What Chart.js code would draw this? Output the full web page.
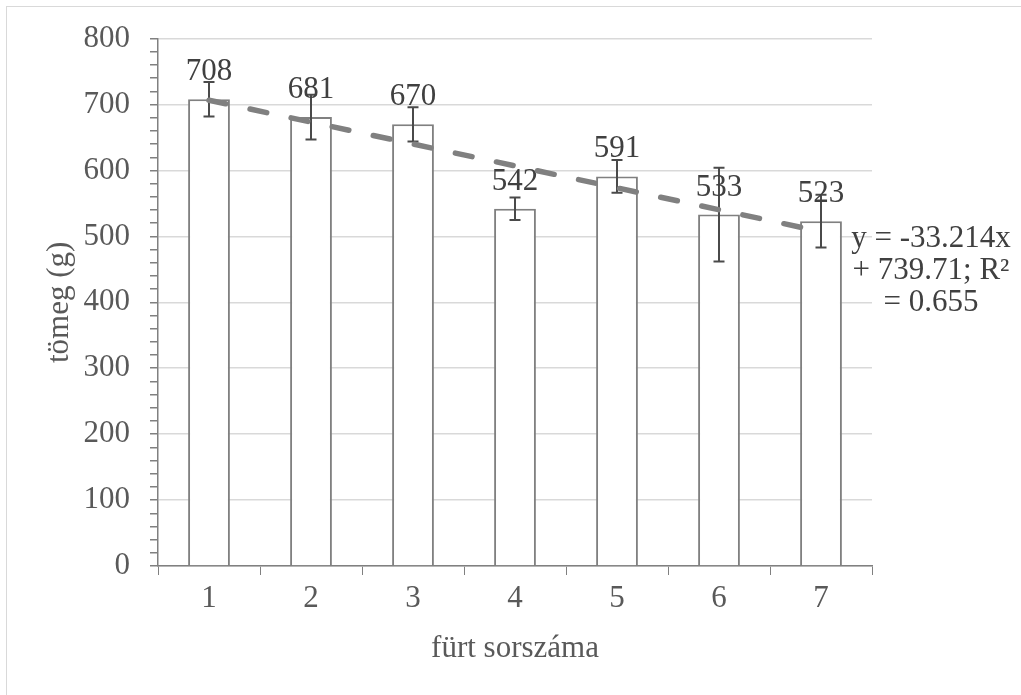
<!DOCTYPE html>
<html>
<head>
<meta charset="utf-8">
<script src="https://cdn.jsdelivr.net/npm/chart.js@4.4.1/dist/chart.umd.min.js"></script>
<style>
  html, body { margin: 0; padding: 0; background: #fff; }
  #wrap { position: relative; width: 1021px; height: 695px; overflow: hidden; }
  #frame { position: absolute; left: 6px; top: 6px; width: 1100px; height: 800px;
           border-left: 1px solid #d9d9d9; border-top: 1px solid #d9d9d9; pointer-events: none; }
</style>
</head>
<body>
<div id="wrap">
  <canvas id="chart" width="1021" height="695"></canvas>
  <div id="frame"></div>
</div>
<script>
// data
const categories = ['1', '2', '3', '4', '5', '6', '7'];
const weights = [708, 681, 670, 542, 591, 533, 523];
const errors = [26, 34, 26, 17, 25, 71, 40];
const trendValues = [706.5, 673.3, 640.1, 606.9, 573.6, 540.4, 507.2];
const trendText = ['y = -33.214x', '+ 739.71; R²', '= 0.655'];
const yMax = 800;
const yMajorStep = 100;
const yMinorStep = 20;

const serif = '"Liberation Serif", "Times New Roman", serif';
const gray = '#808080';
const textColor = '#404040';

// error bars + value labels on top of the bars
const barExtras = {
    id: 'barExtras',
    afterDatasetDraw(chart, args) {
        if (args.index !== 0) return;
        const ctx = chart.ctx;
        const y = chart.scales.y;
        ctx.save();
        ctx.strokeStyle = '#4a4a4a';
        ctx.lineWidth = 2;
        args.meta.data.forEach((bar, i) => {
            const top = y.getPixelForValue(weights[i] + errors[i]);
            const bot = y.getPixelForValue(weights[i] - errors[i]);
            ctx.beginPath();
            ctx.moveTo(bar.x, top); ctx.lineTo(bar.x, bot);
            ctx.moveTo(bar.x - 5.5, top); ctx.lineTo(bar.x + 5.5, top);
            ctx.moveTo(bar.x - 5.5, bot); ctx.lineTo(bar.x + 5.5, bot);
            ctx.stroke();
        });
        ctx.fillStyle = textColor;
        ctx.font = '31px ' + serif;
        ctx.textAlign = 'center';
        ctx.textBaseline = 'alphabetic';
        args.meta.data.forEach((bar, i) => {
            ctx.fillText(String(weights[i]), bar.x, bar.y - 19);
        });
        ctx.restore();
    },
    afterDraw(chart) {
        const ctx = chart.ctx;
        const area = chart.chartArea;
        ctx.save();
        ctx.fillStyle = textColor;
        ctx.font = '31px ' + serif;
        ctx.textAlign = 'center';
        ctx.textBaseline = 'alphabetic';
        trendText.forEach((t, i) => {
            ctx.fillText(t, area.right + 59, 247 + i * 32);
        });
        ctx.restore();
    }
};

new Chart(document.getElementById('chart'), {
    data: {
        labels: categories,
        datasets: [{
            type: 'bar',
            data: weights,
            order: 1,
            backgroundColor: '#ffffff',
            borderColor: gray,
            borderWidth: 2,
            categoryPercentage: 1,
            barPercentage: 0.41
        }, {
            type: 'line',
            data: trendValues,
            order: 0,
            borderColor: gray,
            borderWidth: 5.5,
            borderDash: [17, 25],
            borderCapStyle: 'round',
            pointRadius: 0,
            tension: 0,
            fill: false
        }]
    },
    options: {
        responsive: false,
        animation: false,
        events: [],
        layout: {
            padding: { left: 37, top: 37, right: 149, bottom: 24 }
        },
        plugins: {
            legend: { display: false },
            tooltip: { enabled: false }
        },
        scales: {
            x: {
                offset: true,
                grid: {
                    offset: true,
                    drawOnChartArea: false,
                    tickLength: 9,
                    tickColor: gray
                },
                border: { color: gray, width: 1.5 },
                ticks: {
                    color: '#595959',
                    font: { family: serif, size: 31 },
                    padding: 5
                },
                title: {
                    display: true,
                    text: 'fürt sorszáma',
                    color: '#595959',
                    font: { family: serif, size: 31 }
                },
                afterFit: s => { s.height = 105; }
            },
            y: {
                min: 0,
                max: yMax,
                grid: {
                    color: c => (c.tick && c.tick.value % yMajorStep === 0) ? '#d9d9d9' : 'rgba(0,0,0,0)',
                    lineWidth: 1.5,
                    tickLength: 8,
                    tickColor: gray
                },
                border: { color: gray, width: 1.5 },
                ticks: {
                    stepSize: yMinorStep,
                    autoSkip: false,
                    color: '#595959',
                    font: { family: serif, size: 31 },
                    padding: 20,
                    callback: v => (v % yMajorStep === 0 ? String(v) : '')
                },
                title: {
                    display: true,
                    text: 'tömeg (g)',
                    color: '#595959',
                    font: { family: serif, size: 31 }
                },
                afterFit: s => { s.width = 121; }
            }
        }
    },
    plugins: [barExtras]
});
</script>
</body>
</html>
